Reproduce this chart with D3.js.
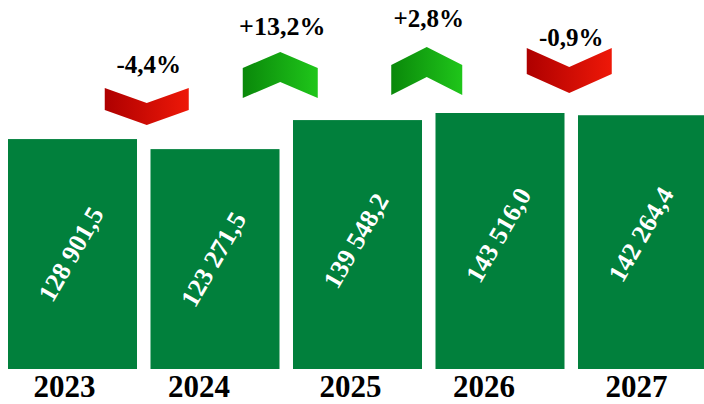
<!DOCTYPE html>
<html><head><meta charset="utf-8">
<script src="https://cdn.jsdelivr.net/npm/d3@7"></script>
<style>body{margin:0;background:#fff}svg{display:block}</style>
</head><body><svg id="c" width="704" height="404"></svg>
<script>
const years = ["2023","2024","2025","2026","2027"];
const values = [128901.5, 123271.5, 139548.2, 143516.0, 142264.4];
const valueLabels = ["128 901,5","123 271,5","139 548,2","143 516,0","142 264,4"];
const changeYears = ["2024","2025","2026","2027"];
const changeLabels = ["-4,4%","+13,2%","+2,8%","-0,9%"];
const changeDir = [-1, 1, 1, -1];
// layout (pixel positions of change markers and labels)
const arrowDx = [3, -6, -2, -2];
const arrowTop = [88, 52, 47, 48];
const arrowThick = [22, 30, 30, 26];
const arrowWidth = [84, 75, 71, 85];
const arrowDepth = [15, 16, 18, 19];
const labelBase = [73, 35, 27, 46];
const labelSize = [25, 26, 25, 25];
const yearDx = [-8, -16, -7, -16, -6];
const valueDy = [0, 0, -4, -6, -8];

const svg = d3.select("#c");
const baseY = 369;
const x = d3.scaleBand().domain(years).range([8, 707]).paddingInner(0.0947).paddingOuter(0);
const y = d3.scaleLinear().domain([0, 143516]).range([baseY, 113]);
const serif = "'Liberation Serif', 'Times New Roman', serif";

const defs = svg.append("defs");
const rg = defs.append("linearGradient").attr("id","red").attr("x1","0").attr("x2","1").attr("y1","0").attr("y2","0");
rg.append("stop").attr("offset","0").attr("stop-color","#ae0000");
rg.append("stop").attr("offset","1").attr("stop-color","#ee1808");
const gg = defs.append("linearGradient").attr("id","green").attr("x1","0").attr("x2","1").attr("y1","0").attr("y2","0");
gg.append("stop").attr("offset","0").attr("stop-color","#0a880a");
gg.append("stop").attr("offset","1").attr("stop-color","#1fc61a");

svg.selectAll("rect.bar").data(years).join("rect").attr("class","bar")
  .attr("x", d => x(d)).attr("width", x.bandwidth())
  .attr("y", (d,i) => y(values[i])).attr("height", (d,i) => baseY - y(values[i]))
  .attr("fill", "#01803c");

svg.selectAll("text.val").data(years).join("text").attr("class","val")
  .attr("transform", (d,i) => `translate(${x(d)+x.bandwidth()/2 - 2},${(y(values[i])+baseY)/2 + valueDy[i]}) rotate(-60)`)
  .attr("text-anchor","middle").attr("dy","0.35em")
  .attr("font-family", serif).attr("font-weight","bold")
  .attr("font-size", 26).attr("fill","#fff")
  .text((d,i) => valueLabels[i]);

svg.selectAll("text.yr").data(years).join("text").attr("class","yr")
  .attr("x", (d,i) => x(d)+x.bandwidth()/2 + yearDx[i]).attr("y", 397)
  .attr("text-anchor","middle")
  .attr("font-family", serif).attr("font-weight","bold")
  .attr("font-size", 31).attr("fill","#000")
  .text(d => d);

changeYears.forEach((yr, i) => {
  const prev = years[years.indexOf(yr)-1];
  const cx = (x(prev) + x(yr) + x.bandwidth()) / 2 + arrowDx[i];
  const w = arrowWidth[i], t = arrowThick[i], dp = arrowDepth[i], top = arrowTop[i];
  const l = cx - w/2, r = cx + w/2;
  let pts;
  if (changeDir[i] < 0) {
    pts = [[l,top],[cx,top+dp],[r,top],[r,top+t],[cx,top+t+dp],[l,top+t]];
  } else {
    pts = [[cx,top],[r,top+dp],[r,top+dp+t],[cx,top+t],[l,top+dp+t],[l,top+dp]];
  }
  svg.append("path").attr("d", d3.line()(pts)+"Z")
    .attr("fill", changeDir[i] < 0 ? "url(#red)" : "url(#green)");
  svg.append("text").attr("x", cx + 2).attr("y", labelBase[i])
    .attr("text-anchor","middle")
    .attr("font-family", serif).attr("font-weight","bold")
    .attr("font-size", labelSize[i]).attr("fill","#000")
    .text(changeLabels[i]);
});
</script></body></html>
